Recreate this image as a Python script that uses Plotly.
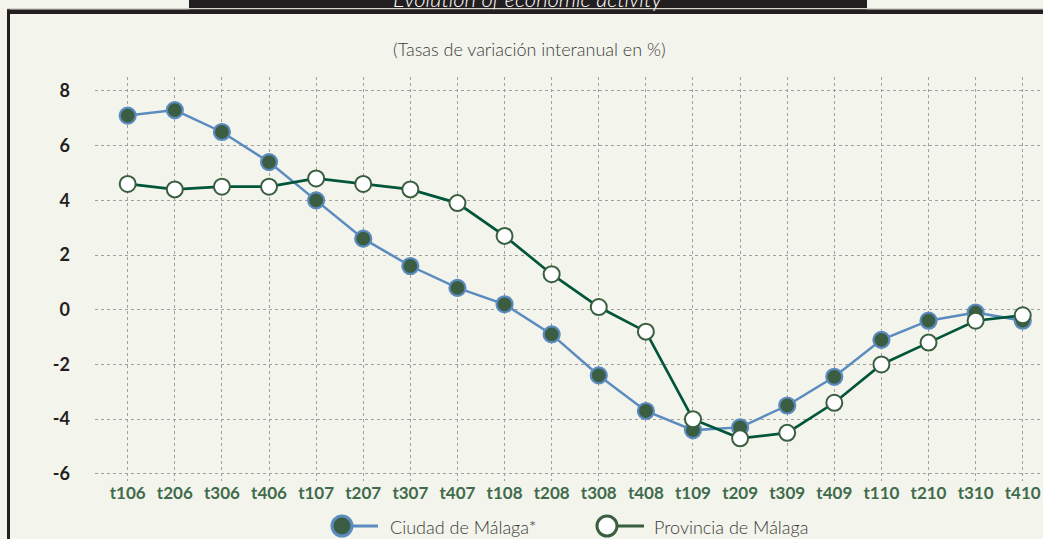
import plotly.graph_objects as go

categories = ["t106", "t206", "t306", "t406", "t107", "t207", "t307", "t407",
              "t108", "t208", "t308", "t408", "t109", "t209", "t309", "t409",
              "t110", "t210", "t310", "t410"]
ciudad = [7.1, 7.3, 6.5, 5.4, 4.0, 2.6, 1.6, 0.8, 0.2, -0.9, -2.4, -3.7,
          -4.4, -4.3, -3.5, -2.45, -1.1, -0.4, -0.1, -0.4]
provincia = [4.6, 4.4, 4.5, 4.5, 4.8, 4.6, 4.4, 3.9, 2.7, 1.3, 0.1, -0.8,
             -4.0, -4.7, -4.5, -3.4, -2.0, -1.2, -0.4, -0.2]
y_ticks = [-6, -4, -2, 0, 2, 4, 6, 8]
series_names = ["Ciudad de Málaga*", "Provincia de Málaga"]
title_text = "Evolution of economic activity"
subtitle_text = "(Tasas de variación interanual en %)"

BG = "#f3f4eb"
DARK = "#231f20"
BLUE = "#5b8bbf"
FILLG = "#3b5e43"
LINEG = "#00553a"
RINGG = "#3a5e40"
W, H = 1043, 539
L, R, T, B = 95, 0, 77, 58
PW, PH = W - L - R, H - T - B


def px(x):
    return (x - L) / PW


def py(y):
    return (H - B - y) / PH


fig = go.Figure()
fig.add_trace(go.Scatter(
    x=categories, y=ciudad, name=series_names[0], mode="lines+markers",
    line=dict(color=BLUE, width=2.5),
    marker=dict(size=16, color=FILLG, line=dict(color=BLUE, width=2.2)),
))
fig.add_trace(go.Scatter(
    x=categories, y=provincia, name=series_names[1], mode="lines+markers",
    line=dict(color=LINEG, width=2.7),
    marker=dict(size=16, color="#ffffff", line=dict(color=RINGG, width=2)),
))

shapes = [
    dict(type="rect", xref="paper", yref="paper", x0=px(189), x1=px(867),
         y0=py(14), y1=py(-2), fillcolor=DARK, line=dict(width=0), layer="above"),
    dict(type="rect", xref="paper", yref="paper", x0=px(7), x1=px(1045),
         y0=py(9.5), y1=py(8), fillcolor="#d3d4c8", line=dict(width=0), layer="above"),
    dict(type="rect", xref="paper", yref="paper", x0=px(7), x1=px(1045),
         y0=py(14), y1=py(9.5), fillcolor=DARK, line=dict(width=0), layer="above"),
    dict(type="rect", xref="paper", yref="paper", x0=px(7), x1=px(10),
         y0=py(541), y1=py(9.5), fillcolor=DARK, line=dict(width=0), layer="above"),
]


def legend_item(cx, line_end, fill, ring, line_color):
    r = 10
    return [
        dict(type="line", xref="paper", yref="paper", x0=px(cx), x1=px(line_end),
             y0=py(526), y1=py(526), line=dict(color=line_color, width=3), layer="above"),
        dict(type="circle", xref="paper", yref="paper", x0=px(cx - r), x1=px(cx + r),
             y0=py(526 + r), y1=py(526 - r), fillcolor=fill,
             line=dict(color=ring, width=3), layer="above"),
    ]


shapes += legend_item(342, 378, FILLG, BLUE, BLUE)
shapes += legend_item(607, 644, "#ffffff", RINGG, RINGG)

annotations = [
    dict(text=title_text, xref="paper", yref="paper", x=px(527), y=py(14),
         xanchor="center", yanchor="bottom", showarrow=False,
         font=dict(family="Lato", size=22, color="#ffffff", style="italic", weight=300)),
    dict(text=subtitle_text, xref="paper", yref="paper", x=px(529), y=py(49),
         xanchor="center", yanchor="middle", showarrow=False,
         font=dict(family="Lato", size=18, color="#3c3c3c", weight=300)),
    dict(text=series_names[0], xref="paper", yref="paper", x=px(388), y=py(527),
         xanchor="left", yanchor="middle", showarrow=False,
         font=dict(family="Lato", size=18, color="#3a3a3a", weight=300)),
    dict(text=series_names[1], xref="paper", yref="paper", x=px(652), y=py(527),
         xanchor="left", yanchor="middle", showarrow=False,
         font=dict(family="Lato", size=18, color="#3a3a3a", weight=300)),
]

fig.update_layout(
    width=W, height=H,
    margin=dict(l=L, r=R, t=T, b=B, pad=0),
    paper_bgcolor=BG, plot_bgcolor=BG,
    shapes=shapes, annotations=annotations,
    showlegend=False,
    font=dict(family="Lato"),
)
fig.update_xaxes(
    type="category", categoryorder="array", categoryarray=categories,
    range=[-0.694, 19.43], showgrid=True, gridcolor="#a0a0a0", griddash="dot",
    gridwidth=1, zeroline=False, showline=False, ticks="",
    tickfont=dict(family="Lato", size=17, color="#3f6b4c", weight="bold"),
    automargin=False,
)
fig.update_yaxes(
    range=[-6.26, 8.51], tickvals=y_ticks, ticktext=[str(v) for v in y_ticks],
    showgrid=True, gridcolor="#a0a0a0", griddash="dot", gridwidth=1,
    zeroline=False, showline=False, ticks="", ticklabelstandoff=24,
    tickfont=dict(family="Lato", size=18, color=DARK, weight="bold"),
    automargin=False,
)

fig.write_html(
    "out.html",
    config={"displayModeBar": False},
    post_script=("document.body.style.margin='0';document.body.style.overflow='hidden';"
                 "document.body.style.background='" + BG + "';"
                 "document.documentElement.style.background='" + BG + "';"),
)
